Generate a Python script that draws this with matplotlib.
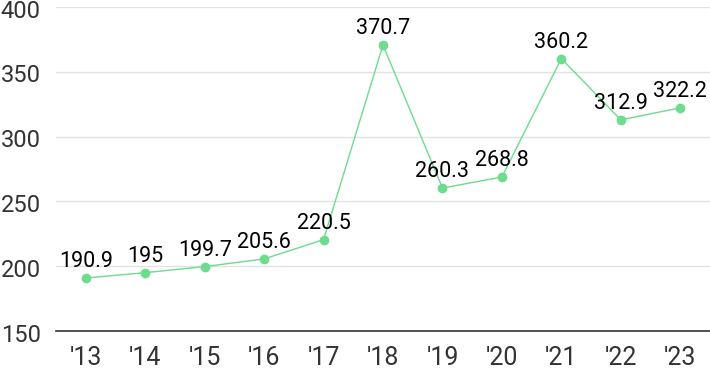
import matplotlib
matplotlib.use("Agg")
import matplotlib.pyplot as plt
from matplotlib.transforms import ScaledTranslation

years = ["'13", "'14", "'15", "'16", "'17", "'18", "'19", "'20", "'21", "'22", "'23"]
values = [190.9, 195, 199.7, 205.6, 220.5, 370.7, 260.3, 268.8, 360.2, 312.9, 322.2]
labels = ["190.9", "195", "199.7", "205.6", "220.5", "370.7", "260.3", "268.8", "360.2", "312.9", "322.2"]
y_ticks = [150, 200, 250, 300, 350, 400]

plt.rcParams['font.family'] = ['Roboto', 'DejaVu Sans']

fig = plt.figure(figsize=(7.1, 3.71), dpi=100)
ax = fig.add_axes([56 / 710, 1 - 331 / 371, 1 - 56 / 710, (331 - 7) / 371])

x = list(range(len(years)))
line_color = "#6ddc8e"
ax.plot(x, values, color=line_color, lw=1.0, marker="o", markersize=6,
        markerfacecolor=line_color, markeredgecolor=line_color, zorder=3, clip_on=False)

for xi, v, t in zip(x, values, labels):
    ax.annotate(t, (xi, v), xytext=(0, 4), textcoords="offset points",
                ha="center", va="bottom", fontsize=15.5, color="#000000", zorder=4)

ax.set_xlim(-0.5, len(years) - 0.5)
ax.set_ylim(150, 400)
ax.set_xticks(x)
ax.set_xticklabels(years)
ax.set_yticks(y_ticks)
ax.set_yticklabels([str(t) for t in y_ticks])

ax.grid(axis="y", color="#e2e2e2", lw=1)
ax.set_axisbelow(True)
for side in ["top", "right", "left"]:
    ax.spines[side].set_visible(False)
ax.spines["bottom"].set_color("#333333")
ax.spines["bottom"].set_linewidth(1.2)

ax.tick_params(axis="x", length=0, labelsize=18, labelcolor="#333333", pad=11)
ax.tick_params(axis="y", length=0, labelsize=17, labelcolor="#333333", pad=11)
shift_down = ScaledTranslation(0, -4 / 100, fig.dpi_scale_trans)
for lab in ax.get_yticklabels():
    lab.set_verticalalignment("center")
    lab.set_transform(lab.get_transform() + shift_down)

fig.savefig("out.png", dpi=100)
